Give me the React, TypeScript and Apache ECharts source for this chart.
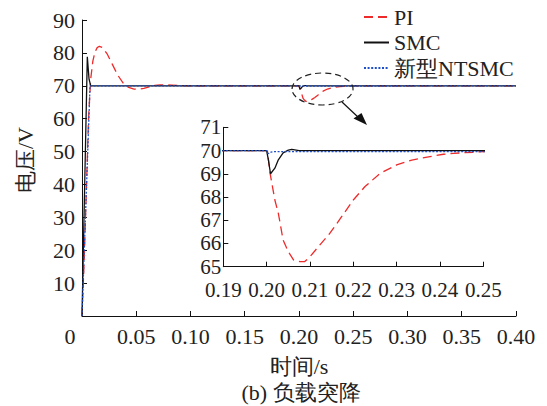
import React, { useEffect, useRef } from 'react';
import * as echarts from 'echarts';

const seriesNames = ['PI', 'SMC', '新型NTSMC'];

// PI controller output voltage (time in s, voltage in V)
const piTime = [0, 0.002, 0.004, 0.006, 0.008, 0.010, 0.012, 0.014, 0.016, 0.019, 0.023, 0.028, 0.033, 0.038, 0.043, 0.048, 0.052, 0.057, 0.062, 0.067, 0.072, 0.077, 0.083, 0.090, 0.100, 0.200, 0.2002, 0.2008, 0.2019, 0.2027, 0.2038, 0.2050, 0.2062, 0.2077, 0.2088, 0.2100, 0.2123, 0.2146, 0.2173, 0.2200, 0.2227, 0.2262, 0.2300, 0.2335, 0.2377, 0.2408, 0.2431, 0.2500, 0.2600, 0.4000];
const piVolt = [0, 17, 38, 60, 72, 77.5, 80.3, 81.6, 82, 81.6, 79.8, 76.5, 73.2, 70.8, 69.5, 69.0, 68.9, 69.2, 69.7, 70.1, 70.28, 70.3, 70.2, 70.08, 70, 70, 69.95, 69.02, 67.87, 67.3, 66.15, 65.65, 65.29, 65.22, 65.22, 65.43, 65.94, 66.44, 67.15, 67.87, 68.45, 69.02, 69.38, 69.59, 69.74, 69.84, 69.88, 69.95, 69.99, 70];

// SMC output voltage
const smcTime = [0, 0.0005, 0.0049, 0.0065, 0.008, 0.010, 0.200, 0.2004, 0.2009, 0.2019, 0.2027, 0.2038, 0.2050, 0.2058, 0.2075, 0.4000];
const smcVolt = [0, 0, 78.8, 72, 70, 70, 70, 69.6, 69.0, 69.24, 69.6, 69.9, 70.02, 70.05, 70, 70];

// New NTSMC output voltage
const ntTime = [0, 0.0005, 0.0074, 0.200, 0.2004, 0.2010, 0.2016, 0.4000];
const ntVolt = [0, 0, 70, 70, 69.86, 69.93, 69.95, 69.95];

const mainXTicks = { min: 0, max: 0.4, interval: 0.05 };
const mainYTicks = { min: 0, max: 90, interval: 10 };
const insetXTicks = { min: 0.19, max: 0.25, interval: 0.01 };
const insetYTicks = { min: 65, max: 71, interval: 1 };

const FONT = 'Liberation Serif';
const colors = ['#ee2b2b', '#111111', '#1f4fc8'];
const lineTypes: any[] = [[9, 5], 'solid', [2, 1.6]];

const zip = (t: number[], v: number[]) => t.map((x, i) => [x, v[i]]);

export default function App() {
  const ref = useRef<HTMLDivElement>(null);
  useEffect(() => {
    if (!ref.current) return;
    const chart = echarts.init(ref.current, undefined, { renderer: 'svg' });
    const datas = [zip(piTime, piVolt), zip(smcTime, smcVolt), zip(ntTime, ntVolt)];
    const axisCommon = {
      axisLine: { show: true, lineStyle: { color: '#111', width: 1 } },
      axisTick: { show: true, inside: true, length: 5, lineStyle: { color: '#111' } },
      splitLine: { show: false },
    };
    const series: any[] = [];
    [0, 1].forEach((g) => {
      seriesNames.forEach((name, i) => {
        series.push({
          name,
          type: 'line',
          xAxisIndex: g,
          yAxisIndex: g,
          data: datas[i],
          symbol: 'none',
          showSymbol: false,
          clip: true,
          lineStyle: { color: colors[i], width: 1.3, type: lineTypes[i] },
          itemStyle: { color: colors[i] },
          z: 2 + i,
        });
      });
    });
    chart.setOption({
      animation: false,
      backgroundColor: '#fff',
      textStyle: { fontFamily: FONT },
      grid: [
        { left: 82, top: 20, width: 434, height: 296 },
        { left: 223.3, top: 127.3, width: 260, height: 139.4 },
      ],
      legend: {
        orient: 'vertical',
        left: 363,
        top: 6,
        padding: 0,
        itemWidth: 25,
        itemHeight: 14,
        itemGap: 3.5,
        data: seriesNames,
        itemStyle: { opacity: 0, color: 'rgba(0,0,0,0)', borderWidth: 0 },
        textStyle: { fontFamily: FONT, fontSize: 22, color: '#222', lineHeight: 22 },
      },
      xAxis: [
        {
          type: 'value', gridIndex: 0, ...mainXTicks, ...axisCommon,
          name: '时间/s', nameLocation: 'middle', nameGap: 39,
          nameTextStyle: { fontFamily: FONT, fontSize: 22, color: '#222' },
          axisLabel: {
            margin: 9, fontFamily: FONT, fontSize: 22, color: '#222',
            formatter: (v: number) => (v === 0 ? '{z|0}' : v.toFixed(2)),
            rich: { z: { fontFamily: FONT, fontSize: 22, color: '#222', padding: [0, 24, 0, 0] } },
          },
        },
        {
          type: 'value', gridIndex: 1, ...insetXTicks, ...axisCommon,
          axisLabel: {
            margin: 14, fontFamily: FONT, fontSize: 21, color: '#222', lineHeight: 18,
            formatter: (v: number) => v.toFixed(2),
          },
        },
      ],
      yAxis: [
        {
          type: 'value', gridIndex: 0, ...mainYTicks, ...axisCommon,
          axisLabel: {
            margin: 7, fontFamily: FONT, fontSize: 22, color: '#222',
            formatter: (v: number) => (v === 0 ? '' : String(v)),
          },
        },
        {
          type: 'value', gridIndex: 1, ...insetYTicks, ...axisCommon,
          axisLabel: { margin: 2, fontSize: 21, color: '#222', fontFamily: FONT, lineHeight: 17 },
        },
      ],
      series,
      graphic: [
        {
          type: 'ellipse',
          shape: { cx: 322.5, cy: 89, rx: 30.5, ry: 16 },
          style: { fill: 'none', stroke: '#222', lineWidth: 1.2, lineDash: [6, 4] },
          z: 10,
        },
        {
          type: 'line',
          shape: { x1: 342, y1: 102, x2: 359, y2: 118 },
          style: { stroke: '#111', lineWidth: 1.2 },
          z: 10,
        },
        {
          type: 'polygon',
          shape: { points: [[367, 125], [353.5, 118.5], [361.5, 113]] },
          style: { fill: '#111' },
          z: 10,
        },
        {
          type: 'text',
          x: 25,
          y: 160,
          rotation: Math.PI / 2,
          style: { text: '电压/V', fontFamily: FONT, fontSize: 22, fill: '#222', align: 'center', verticalAlign: 'middle' },
          z: 10,
        },
        {
          type: 'text',
          x: 301,
          y: 392,
          style: { text: '(b) 负载突降', fontFamily: FONT, fontSize: 22, fill: '#222', align: 'center', verticalAlign: 'middle' },
          z: 10,
        },
      ],
    });
    return () => chart.dispose();
  }, []);
  return (
    <div
      ref={ref}
      style={{ position: 'absolute', left: 0, top: 0, width: 547, height: 406, background: '#fff' }}
    />
  );
}
